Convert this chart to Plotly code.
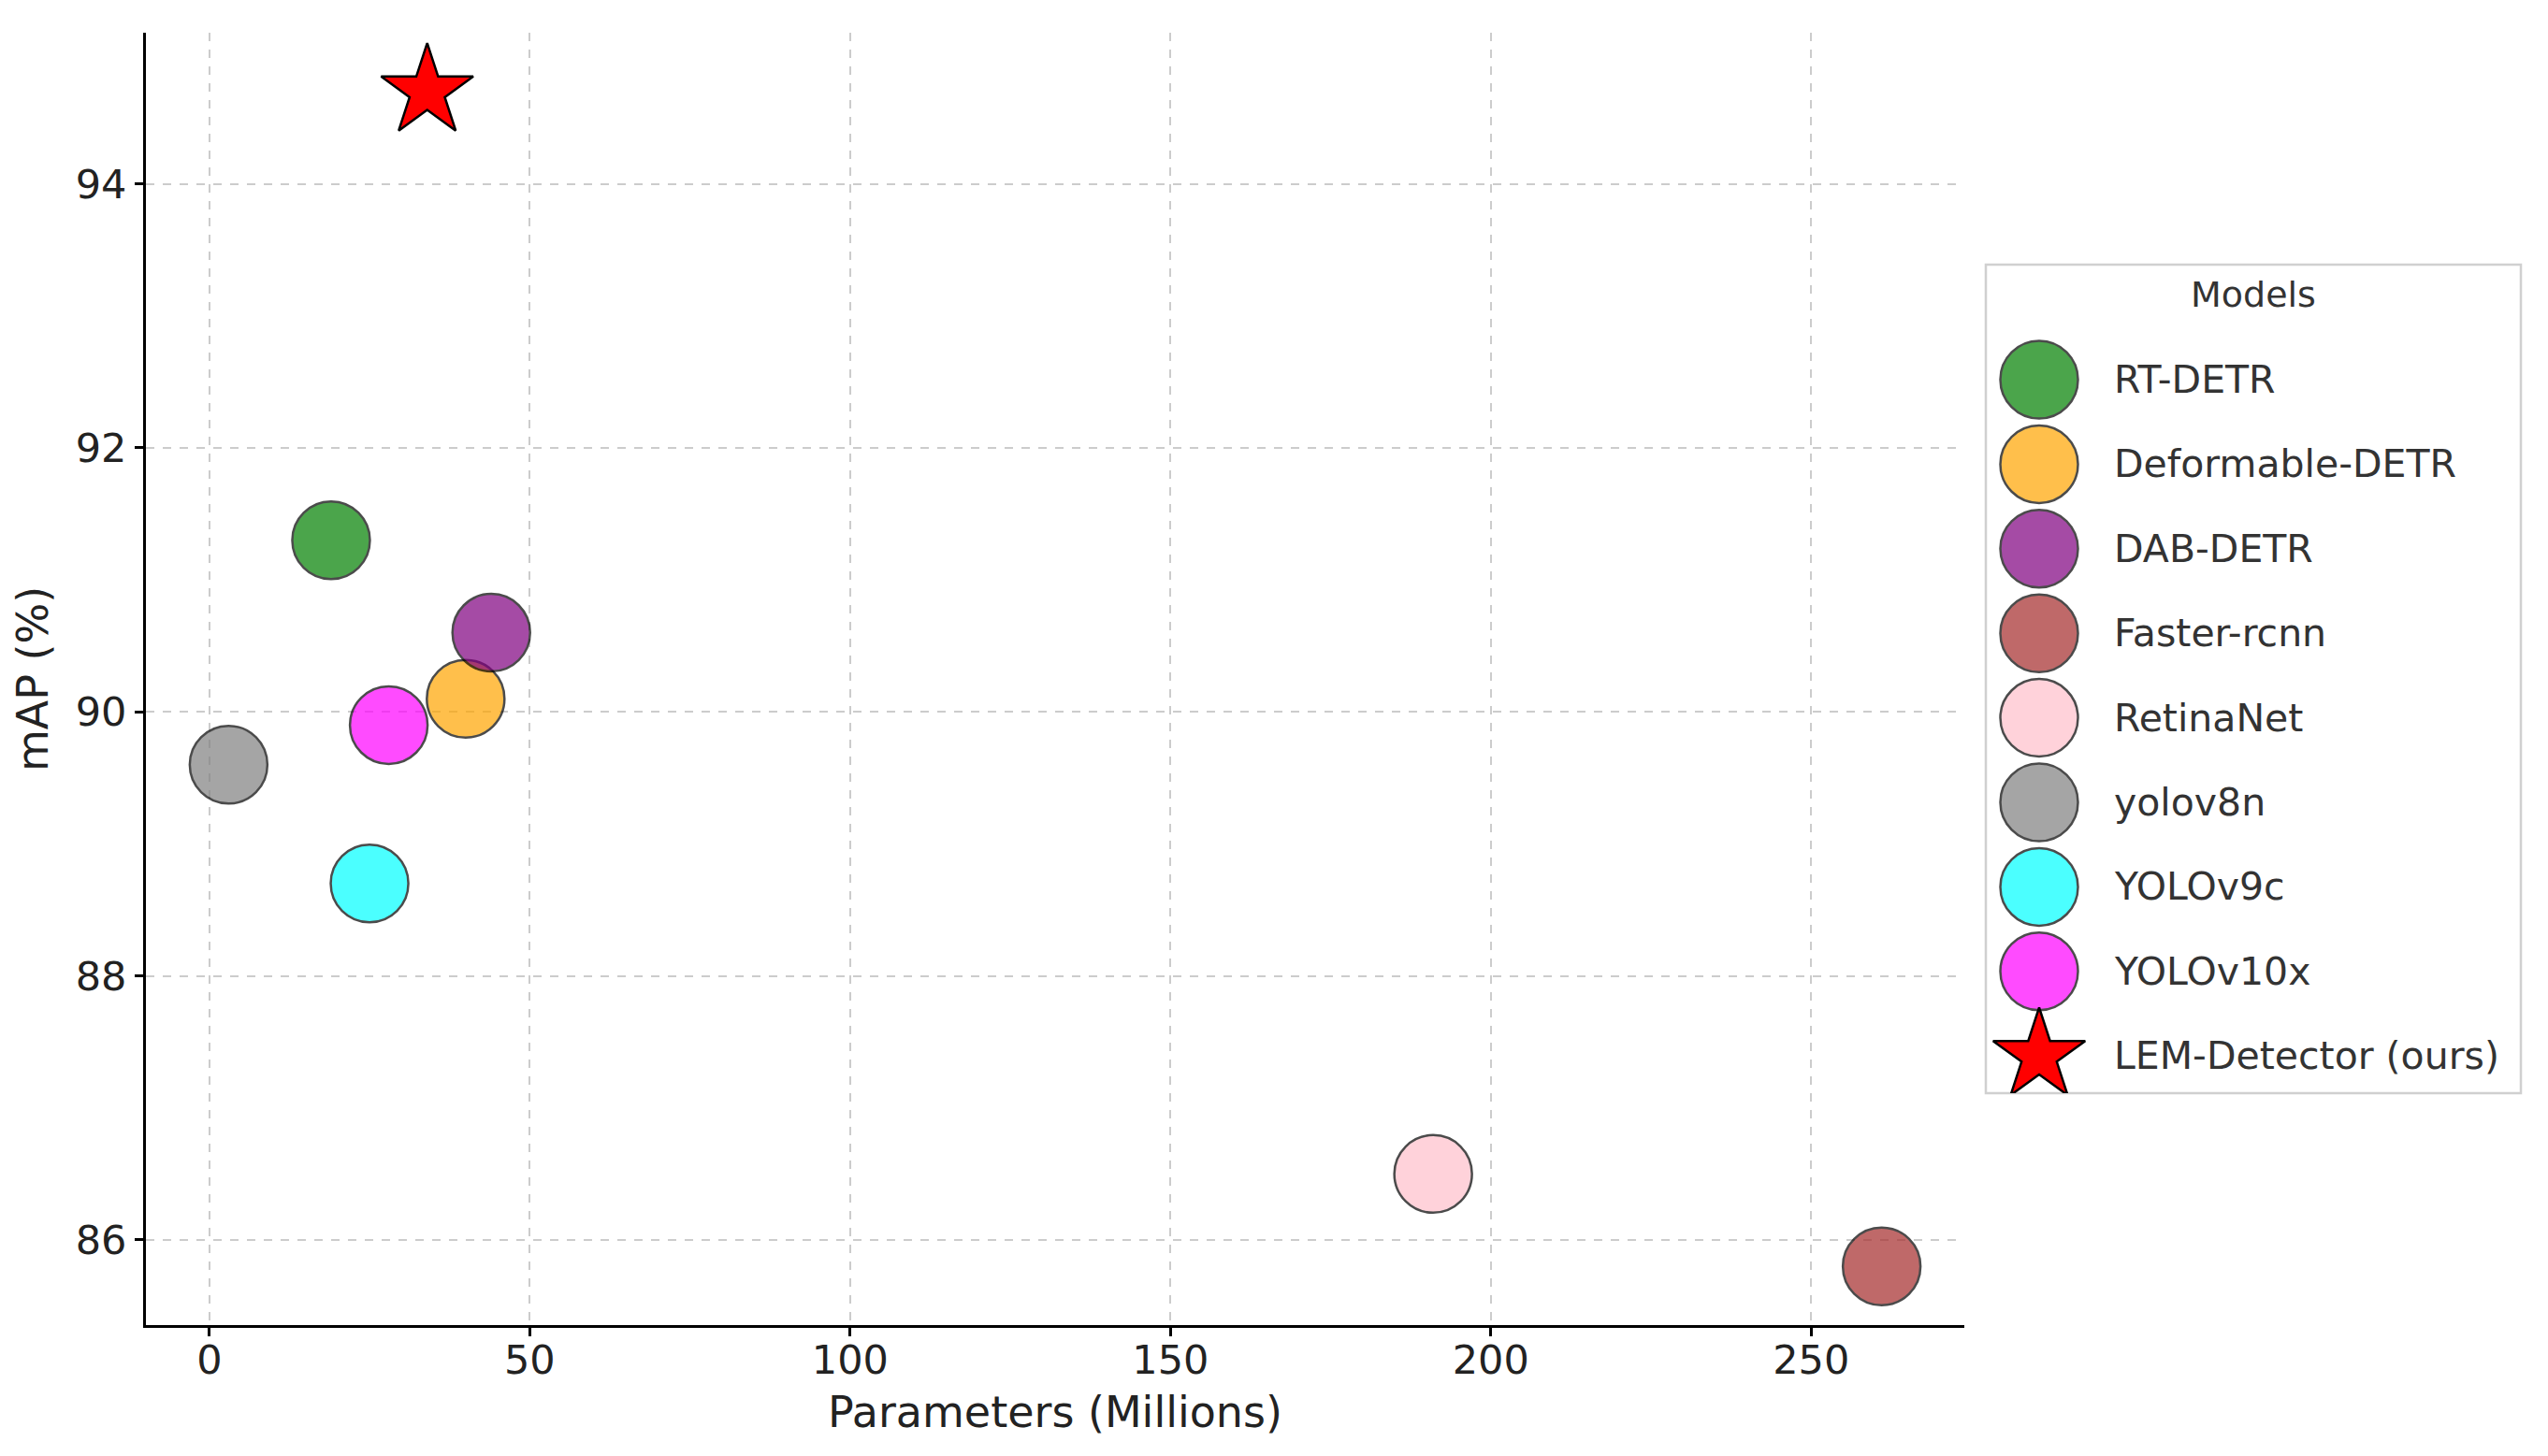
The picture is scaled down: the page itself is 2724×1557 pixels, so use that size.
import plotly.graph_objects as go

# ---------------- data ----------------
models = ["RT-DETR", "Deformable-DETR", "DAB-DETR", "Faster-rcnn", "RetinaNet",
          "yolov8n", "YOLOv9c", "YOLOv10x", "LEM-Detector (ours)"]
params = [19.0, 40.0, 44.0, 261.0, 191.0, 3.0, 25.0, 28.0, 34.0]
mAP = [91.3, 90.1, 90.6, 85.8, 86.5, 89.6, 88.7, 89.9, 94.7]
colors = ["#008000", "#FFA500", "#800080", "#A52A2A", "#FFC0CB",
          "#808080", "#00FFFF", "#FF00FF", "#FF0000"]
symbols = ["circle"] * 8 + ["star"]
opacities = [0.7] * 8 + [1.0]
x_ticks = [0, 50, 100, 150, 200, 250]
y_ticks = [86, 88, 90, 92, 94]

# ---------------- geometry (page pixels) ----------------
PAGE_W, PAGE_H = 2724, 1557
BODY = 8                       # default body margin of the html page
W, H = PAGE_W - 2 * BODY, PAGE_H - 2 * BODY
FONT = "DejaVu Sans"
plot_l, plot_r, plot_t, plot_b = 156, 2100, 35, 1417
leg_l, leg_r, leg_t, leg_b = 2123, 2695, 283, 1169
CIRCLE = 83
STAR = 74


def px(x):
    return (x - BODY) / W


def py(y):
    return 1 - (y - BODY) / H


def pad(lo, hi, m=0.05):
    d = hi - lo
    return [lo - m * d, hi + m * d]


xr = pad(min(params), max(params))
yr = pad(min(mAP), max(mAP))

fig = go.Figure()

for name, x, y, c, s, o in zip(models, params, mAP, colors, symbols, opacities):
    fig.add_trace(go.Scatter(
        x=[x], y=[y], mode="markers", name=name, showlegend=False,
        marker=dict(size=STAR if s == "star" else CIRCLE, color=c, symbol=s,
                    opacity=o, line=dict(color="black", width=2.5)),
        xaxis="x", yaxis="y"))

# custom legend (large markers) drawn on its own axes
leg_w, leg_h = leg_r - leg_l, leg_b - leg_t
row0, row_h = 123, 90.4
for i, (name, c, s, o) in enumerate(zip(models, colors, symbols, opacities)):
    fig.add_trace(go.Scatter(
        x=[57], y=[row0 + i * row_h], mode="markers", showlegend=False,
        hoverinfo="skip",
        marker=dict(size=STAR if s == "star" else CIRCLE, color=c, symbol=s,
                    opacity=o, line=dict(color="black", width=2.5)),
        xaxis="x2", yaxis="y2"))
    fig.add_annotation(x=135, y=row0 + i * row_h, xref="x2", yref="y2",
                       text=name, showarrow=False, xanchor="left", yanchor="middle",
                       font=dict(family=FONT, size=41, color="#333333"))
fig.add_annotation(x=leg_w / 2, y=32, xref="x2", yref="y2", text="Models",
                   showarrow=False, xanchor="center", yanchor="middle",
                   font=dict(family=FONT, size=38, color="#333333"))
fig.add_shape(type="rect", xref="paper", yref="paper",
              x0=px(leg_l), x1=px(leg_r), y0=py(leg_b), y1=py(leg_t),
              line=dict(color="#d0d0d0", width=2.5), fillcolor="rgba(255,255,255,0.8)",
              layer="below")

axis_common = dict(
    showline=True, linecolor="black", linewidth=3,
    ticks="outside", ticklen=9, tickwidth=2.5, tickcolor="black",
    showgrid=True, gridcolor="#cccccc", gridwidth=2, griddash="dash",
    zeroline=False, tickfont=dict(family=FONT, size=43, color="#222222"),
    automargin=False,
)

fig.update_layout(
    width=W, height=H,
    margin=dict(l=0, r=0, t=0, b=0),
    paper_bgcolor="white", plot_bgcolor="white",
    showlegend=False,
    xaxis=dict(domain=[px(plot_l), px(plot_r)], range=xr, tickvals=x_ticks,
               ticklabelstandoff=-12,
               title=dict(text="Parameters (Millions)", standoff=17,
                          font=dict(family=FONT, size=46, color="#222222")),
               anchor="y", **axis_common),
    yaxis=dict(domain=[py(plot_b), py(plot_t)], range=yr, tickvals=y_ticks,
               title=dict(text="mAP (%)", standoff=19,
                          font=dict(family=FONT, size=46, color="#222222")),
               anchor="x", **axis_common),
    xaxis2=dict(domain=[px(leg_l), px(leg_r)], range=[0, leg_w], visible=False,
                fixedrange=True, anchor="y2"),
    yaxis2=dict(domain=[py(leg_b), py(leg_t)], range=[leg_h, 0], visible=False,
                fixedrange=True, anchor="x2"),
)

fig.write_html("out.html")
